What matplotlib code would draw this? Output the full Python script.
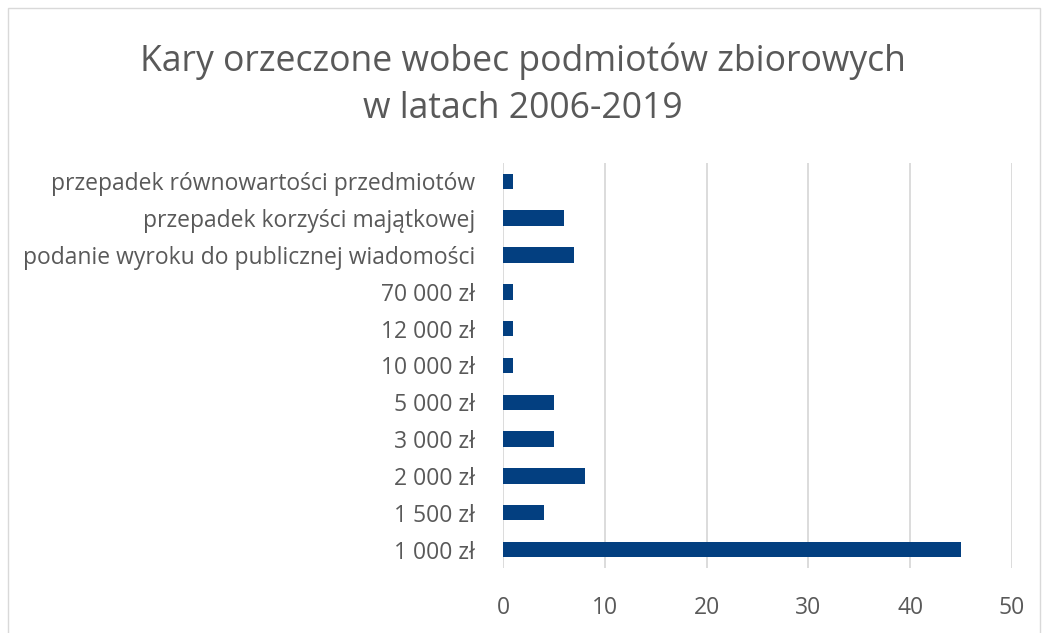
import matplotlib
matplotlib.use("Agg")
import matplotlib.pyplot as plt
from matplotlib.patches import Rectangle

categories = [
    "1 000 zł", "1 500 zł", "2 000 zł", "3 000 zł", "5 000 zł",
    "10 000 zł", "12 000 zł", "70 000 zł",
    "podanie wyroku do publicznej wiadomości",
    "przepadek korzyści majątkowej",
    "przepadek równowartości przedmiotów",
]
values = [45, 4, 8, 5, 5, 1, 1, 1, 7, 6, 1]
xticks = [0, 10, 20, 30, 40, 50]
title = "Kary orzeczone wobec podmiotów zbiorowych\nw latach 2006-2019"

plt.rcParams['font.family'] = ['Open Sans', 'DejaVu Sans']
text_color = "#595959"
bar_color = "#033f80"

fig = plt.figure(figsize=(10.46, 6.33), dpi=100)
ax = fig.add_axes([0.481, 0.1027, 0.4865, 0.6398])

y = range(len(categories))
ax.barh(y, values, height=0.42, color=bar_color, zorder=3)
ax.set_yticks(list(y))
ax.set_yticklabels(categories)
ax.set_ylim(-0.5, len(categories) - 0.5)
ax.set_xlim(0, 50)
ax.set_xticks(xticks)
ax.xaxis.grid(True, color="#d9d9d9", linewidth=1.3, zorder=0)
for s in ax.spines.values():
    s.set_visible(False)
ax.tick_params(axis='both', length=0, colors=text_color, labelsize=16.5)
ax.tick_params(axis='y', pad=20)
ax.tick_params(axis='x', pad=20)

fig.text(0.5, 0.866, title, ha='center', va='center', fontsize=25.6,
         color=text_color, linespacing=1.4)

fig.patches.append(Rectangle((0.008, -0.01), 0.986, 0.997, transform=fig.transFigure,
                             fill=False, edgecolor="#d9d9d9", linewidth=1.0))

fig.savefig("out.png", dpi=100)
